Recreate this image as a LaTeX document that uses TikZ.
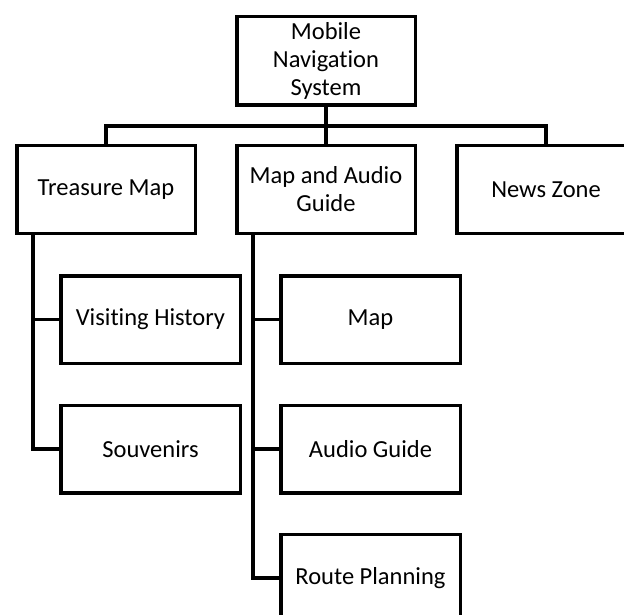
\documentclass[tikz,border=0pt]{standalone}
\usepackage{fontspec}
\setmainfont[Ligatures=NoCommon]{Carlito}
\usepackage{tikz}
\usetikzlibrary{positioning}
\tikzstyle{box}=[draw,rectangle,line width=3.5pt,minimum width=178.5pt,minimum height=87.5pt,inner sep=2pt,align=center,font=\fontsize{24.5}{28}\selectfont]
\tikzstyle{subbox}=[box,minimum width=179.5pt]
\tikzstyle{link}=[draw,line width=3.5pt,-]

\begin{document}
\begin{tikzpicture}[x=1pt,y=-1pt]
        \clip (0,0) rectangle (624,615);
        \fill[white] (0,0) rectangle (624,615);
        % top level
        \node[box,minimum height=88.5pt] (mns) at (326,61) {Mobile\\Navigation\\System};
        % second level
        \node[box] (tm) at (106,189.5) {Treasure Map};
        \node[box] (mag) at (326,189.5) {Map and Audio\\Guide};
        \node[box] (nz) at (546,189.5) {News Zone};
        % third level
        \node[subbox] (vh) at (150.5,319.5) {Visiting History};
        \node[subbox] (sv) at (150.5,449) {Souvenirs};
        \node[subbox] (map) at (370.5,319.5) {Map};
        \node[subbox] (ag) at (370.5,449) {Audio Guide};
        \node[subbox] (rp) at (370.5,578) {Route Planning};
        \coordinate (bus) at (326,126);
        \coordinate (tmroot) at (33,233);
        \coordinate (magroot) at (253,233);
        \draw[link] (mns) -- (bus);
        \draw[link] (bus) -- (mag);
        \draw[link] (tm.north) |- (bus) -| (nz.north);
        \draw[link] (tmroot) |- (sv.west);
        \draw[link] (tmroot |- vh.west) -- (vh.west);
        \draw[link] (magroot) |- (rp.west);
        \draw[link] (magroot |- map.west) -- (map.west);
        \draw[link] (magroot |- ag.west) -- (ag.west);
      \end{tikzpicture}
\end{document}
